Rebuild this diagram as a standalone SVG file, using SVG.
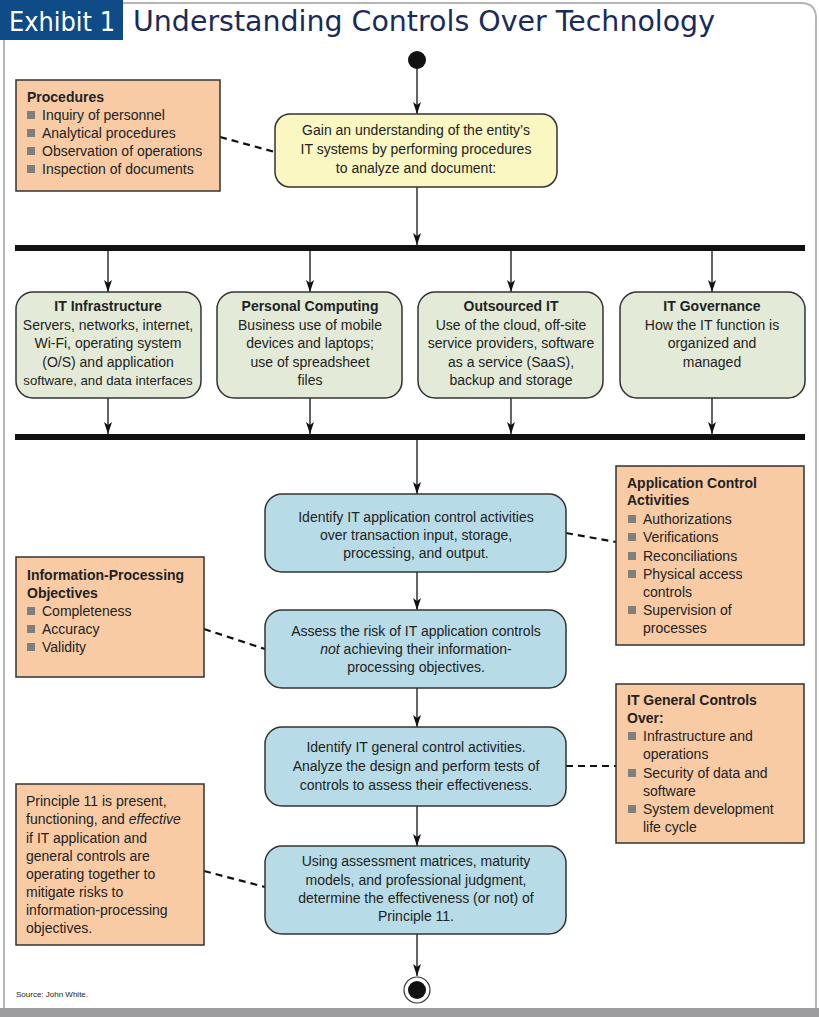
<svg xmlns="http://www.w3.org/2000/svg" width="819" height="1017" viewBox="0 0 819 1017">
<defs>
<marker id="ah" markerWidth="12" markerHeight="10" refX="12" refY="5" orient="auto" markerUnits="userSpaceOnUse" viewBox="0 0 12 10">
<path d="M0,1 L3,5 L0,9 L12,5 Z" fill="#111"/>
</marker>
<style>
.t{font-family:"Liberation Sans",Arial,sans-serif;font-size:14px;fill:#222}
.c{text-anchor:middle}
.b{font-weight:bold}
.i{font-style:italic}
.flow{stroke:#111;stroke-width:1.3;fill:none;marker-end:url(#ah)}
.dash{stroke:#111;stroke-width:2.2;stroke-dasharray:7,5;fill:none}
.bar{fill:#111}
.yel{fill:#fbf7c2;stroke:#333;stroke-width:1.5}
.grn{fill:#e3ebd8;stroke:#333;stroke-width:1.5}
.blu{fill:#b8dce7;stroke:#333;stroke-width:1.5}
.org{fill:#f8cba5;stroke:#333;stroke-width:1.5}
.sq{fill:#7f7f7f}
</style>
</defs>
<rect width="819" height="1017" fill="#fff"/>
<!-- frame -->
<path d="M4,40 L4,1010 L816,1010 L816,18 Q816,3 801,3 L123,3" fill="none" stroke="#b5b5b8" stroke-width="2"/>
<rect x="0" y="1008" width="819" height="9" fill="#9d9da0"/>
<!-- header -->
<g id="header">
<rect x="0" y="0" width="123" height="40" fill="#0e4b87"/>
<text x="9" y="31" font-family="'DejaVu Sans',sans-serif" font-size="27" fill="#fff" textLength="106" lengthAdjust="spacingAndGlyphs">Exhibit 1</text>
<text x="133" y="31" font-family="'DejaVu Sans',sans-serif" font-size="29" fill="#1b2a5c" textLength="582" lengthAdjust="spacingAndGlyphs">Understanding Controls Over Technology</text>
</g>
<!-- connectors -->
<g id="connectors">
<line class="flow" x1="417" y1="68" x2="417" y2="114"/>
<line class="flow" x1="417" y1="187" x2="417" y2="245"/>
<line class="flow" x1="108" y1="251" x2="108" y2="292"/>
<line class="flow" x1="310" y1="251" x2="310" y2="292"/>
<line class="flow" x1="511" y1="251" x2="511" y2="292"/>
<line class="flow" x1="712" y1="251" x2="712" y2="292"/>
<line class="flow" x1="108" y1="398" x2="108" y2="434"/>
<line class="flow" x1="310" y1="398" x2="310" y2="434"/>
<line class="flow" x1="511" y1="398" x2="511" y2="434"/>
<line class="flow" x1="712" y1="398" x2="712" y2="434"/>
<line class="flow" x1="417" y1="440" x2="417" y2="494"/>
<line class="flow" x1="417" y1="572" x2="417" y2="610"/>
<line class="flow" x1="417" y1="688" x2="417" y2="727"/>
<line class="flow" x1="417" y1="806" x2="417" y2="846"/>
<line class="flow" x1="417" y1="934" x2="417" y2="976"/>
<line class="dash" x1="220" y1="137" x2="275" y2="152"/>
<line class="dash" x1="566" y1="533" x2="616" y2="542"/>
<line class="dash" x1="204" y1="629" x2="265" y2="649"/>
<line class="dash" x1="566" y1="766" x2="616" y2="766"/>
<line class="dash" x1="204" y1="871" x2="265" y2="887"/>
</g>
<!-- bars -->
<g id="fork"><rect class="bar" x="15" y="245" width="790" height="6"/></g>
<g id="join"><rect class="bar" x="15" y="434" width="790" height="6"/></g>
<!-- start / end -->
<g id="start"><circle cx="417" cy="60" r="9" fill="#111"/></g>
<g id="end"><circle cx="417" cy="990" r="13" fill="#fff" stroke="#333" stroke-width="1.2"/><circle cx="417" cy="990" r="9" fill="#111"/></g>
<!-- yellow -->
<g id="understand">
<rect class="yel" x="275" y="114" width="282" height="73" rx="15"/>
<text class="t c" x="416" y="135">Gain an understanding of the entity’s</text>
<text class="t c" x="416" y="154">IT systems by performing procedures</text>
<text class="t c" x="416" y="173">to analyze and document:</text>
</g>
<g id="procedures">
<rect class="org" x="16" y="80" width="204" height="111"/>
<text class="t b" x="27" y="102">Procedures</text>
<rect class="sq" x="27" y="111" width="8" height="8"/><text class="t" x="42" y="120">Inquiry of personnel</text>
<rect class="sq" x="27" y="129" width="8" height="8"/><text class="t" x="42" y="138">Analytical procedures</text>
<rect class="sq" x="27" y="147" width="8" height="8"/><text class="t" x="42" y="156">Observation of operations</text>
<rect class="sq" x="27" y="165" width="8" height="8"/><text class="t" x="42" y="174">Inspection of documents</text>
</g>
<!-- green -->
<g id="infra">
<rect class="grn" x="16" y="292" width="185" height="106" rx="17"/>
<text class="t c b" x="108" y="311">IT Infrastructure</text>
<text class="t c" x="108" y="330">Servers, networks, internet,</text>
<text class="t c" x="108" y="348">Wi-Fi, operating system</text>
<text class="t c" x="108" y="367">(O/S) and application</text>
<text x="108" y="385" font-family="'Liberation Sans',Arial,sans-serif" font-size="13.2" fill="#222" text-anchor="middle">software, and data interfaces</text>
</g>
<g id="personal">
<rect class="grn" x="217" y="292" width="185" height="106" rx="17"/>
<text class="t c b" x="310" y="311">Personal Computing</text>
<text class="t c" x="310" y="330">Business use of mobile</text>
<text class="t c" x="310" y="348">devices and laptops;</text>
<text class="t c" x="310" y="367">use of spreadsheet</text>
<text class="t c" x="310" y="385">files</text>
</g>
<g id="outsourced">
<rect class="grn" x="418" y="292" width="185" height="106" rx="17"/>
<text class="t c b" x="511" y="311">Outsourced IT</text>
<text class="t c" x="511" y="330">Use of the cloud, off-site</text>
<text class="t c" x="511" y="348">service providers, software</text>
<text class="t c" x="511" y="367">as a service (SaaS),</text>
<text class="t c" x="511" y="385">backup and storage</text>
</g>
<g id="governance">
<rect class="grn" x="620" y="292" width="185" height="106" rx="17"/>
<text class="t c b" x="712" y="311">IT Governance</text>
<text class="t c" x="712" y="330">How the IT function is</text>
<text class="t c" x="712" y="348">organized and</text>
<text class="t c" x="712" y="367">managed</text>
</g>
<!-- blue -->
<g id="identify-app">
<rect class="blu" x="265" y="494" width="301" height="78" rx="17"/>
<text class="t c" x="416" y="522">Identify IT application control activities</text>
<text class="t c" x="416" y="540">over transaction input, storage,</text>
<text class="t c" x="416" y="558">processing, and output.</text>
</g>
<g id="assess">
<rect class="blu" x="265" y="610" width="301" height="78" rx="17"/>
<text class="t c" x="416" y="636">Assess the risk of IT application controls</text>
<text class="t c" x="416" y="654"><tspan class="i">not</tspan> achieving their information-</text>
<text class="t c" x="416" y="672">processing objectives.</text>
</g>
<g id="identify-gen">
<rect class="blu" x="265" y="727" width="301" height="79" rx="17"/>
<text class="t c" x="416" y="752">Identify IT general control activities.</text>
<text class="t c" x="416" y="771">Analyze the design and perform tests of</text>
<text class="t c" x="416" y="790">controls to assess their effectiveness.</text>
</g>
<g id="determine">
<rect class="blu" x="265" y="846" width="301" height="88" rx="17"/>
<text class="t c" x="416" y="866">Using assessment matrices, maturity</text>
<text class="t c" x="416" y="885">models, and professional judgment,</text>
<text class="t c" x="416" y="903">determine the effectiveness (or not) of</text>
<text class="t c" x="416" y="921">Principle 11.</text>
</g>
<!-- orange notes -->
<g id="app-controls">
<rect class="org" x="616" y="466" width="188" height="179"/>
<text class="t b" x="627" y="488">Application Control</text>
<text class="t b" x="627" y="505">Activities</text>
<rect class="sq" x="628" y="515" width="8" height="8"/><text class="t" x="643" y="524">Authorizations</text>
<rect class="sq" x="628" y="533" width="8" height="8"/><text class="t" x="643" y="542">Verifications</text>
<rect class="sq" x="628" y="552" width="8" height="8"/><text class="t" x="643" y="561">Reconciliations</text>
<rect class="sq" x="628" y="570" width="8" height="8"/><text class="t" x="643" y="579">Physical access</text>
<text class="t" x="643" y="597">controls</text>
<rect class="sq" x="628" y="606" width="8" height="8"/><text class="t" x="643" y="615">Supervision of</text>
<text class="t" x="643" y="633">processes</text>
</g>
<g id="ip-objectives">
<rect class="org" x="16" y="557" width="188" height="120"/>
<text class="t b" x="27" y="580">Information-Processing</text>
<text class="t b" x="27" y="598">Objectives</text>
<rect class="sq" x="27" y="607" width="8" height="8"/><text class="t" x="42" y="616">Completeness</text>
<rect class="sq" x="27" y="625" width="8" height="8"/><text class="t" x="42" y="634">Accuracy</text>
<rect class="sq" x="27" y="643" width="8" height="8"/><text class="t" x="42" y="652">Validity</text>
</g>
<g id="gen-controls">
<rect class="org" x="616" y="684" width="188" height="159"/>
<text class="t b" x="627" y="705">IT General Controls</text>
<text class="t b" x="627" y="723">Over:</text>
<rect class="sq" x="628" y="732" width="8" height="8"/><text class="t" x="643" y="741">Infrastructure and</text>
<text class="t" x="643" y="759">operations</text>
<rect class="sq" x="628" y="769" width="8" height="8"/><text class="t" x="643" y="778">Security of data and</text>
<text class="t" x="643" y="796">software</text>
<rect class="sq" x="628" y="805" width="8" height="8"/><text class="t" x="643" y="814">System development</text>
<text class="t" x="643" y="832">life cycle</text>
</g>
<g id="principle">
<rect class="org" x="16" y="784" width="188" height="161"/>
<text class="t" x="26" y="806">Principle 11 is present,</text>
<text class="t" x="26" y="824">functioning, and <tspan class="i">effective</tspan></text>
<text class="t" x="26" y="843">if IT application and</text>
<text class="t" x="26" y="861">general controls are</text>
<text class="t" x="26" y="879">operating together to</text>
<text class="t" x="26" y="897">mitigate risks to</text>
<text class="t" x="26" y="915">information-processing</text>
<text class="t" x="26" y="933">objectives.</text>
</g>
<text x="16" y="997" font-family="'Liberation Sans',Arial,sans-serif" font-size="8" fill="#222">Source: John White.</text>
</svg>
